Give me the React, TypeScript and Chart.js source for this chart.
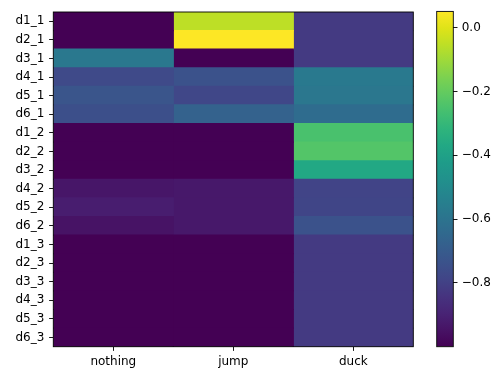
import { useEffect, useRef } from "react";
import { Chart, registerables } from "chart.js";

Chart.register(...registerables);

// Row and column categories of the heatmap
const rowLabels = [
  "d1_1", "d2_1", "d3_1", "d4_1", "d5_1", "d6_1",
  "d1_2", "d2_2", "d3_2", "d4_2", "d5_2", "d6_2",
  "d1_3", "d2_3", "d3_3", "d4_3", "d5_3", "d6_3",
];
const columnLabels = ["nothing", "jump", "duck"];

// Cell values, one array per column (top row first)
const nothingValues = [
  -1.0, -1.0, -0.58, -0.769, -0.727, -0.748,
  -1.0, -1.0, -1.0, -0.937, -0.916, -0.947,
  -1.0, -1.0, -1.0, -1.0, -1.0, -1.0,
];
const jumpValues = [
  -0.054, 0.051, -1.0, -0.737, -0.779, -0.674,
  -1.0, -1.0, -1.0, -0.932, -0.932, -0.932,
  -1.0, -1.0, -1.0, -1.0, -1.0, -1.0,
];
const duckValues = [
  -0.821, -0.821, -0.821, -0.574, -0.585, -0.632,
  -0.254, -0.233, -0.369, -0.79, -0.785, -0.737,
  -0.821, -0.821, -0.821, -0.821, -0.821, -0.821,
];

// Colorbar tick positions
const colorbarTicks = [-0.8, -0.6, -0.4, -0.2, 0.0];

// Viridis colormap sampled every 0.05
const VIRIDIS: number[][] = [
  [68, 1, 84], [71, 19, 101], [72, 36, 117], [70, 51, 127], [65, 68, 135],
  [59, 82, 139], [53, 95, 141], [47, 108, 142], [42, 120, 142], [37, 132, 142],
  [33, 145, 140], [30, 156, 137], [34, 168, 132], [47, 180, 124], [68, 191, 112],
  [94, 201, 98], [122, 209, 81], [155, 217, 60], [189, 223, 38], [223, 227, 24],
  [253, 231, 37],
];

function viridis(t: number): string {
  const c = Math.min(1, Math.max(0, t)) * (VIRIDIS.length - 1);
  const i = Math.min(VIRIDIS.length - 2, Math.floor(c));
  const f = c - i;
  const a = VIRIDIS[i];
  const b = VIRIDIS[i + 1];
  const mix = (k: number) => Math.round(a[k] + (b[k] - a[k]) * f);
  return `rgb(${mix(0)},${mix(1)},${mix(2)})`;
}

const FONT = { family: "'DejaVu Sans', sans-serif", size: 12 };
const TICK_LEN = 4.2;
const TICK_PAD = 4.2;

const framePlugin = {
  id: "frame",
  afterDraw(chart: any) {
    const { ctx, chartArea } = chart;
    const { left, top, right, bottom } = chartArea;
    ctx.save();
    ctx.strokeStyle = "#000";
    ctx.lineWidth = 0.9;
    ctx.strokeRect(left, top, right - left, bottom - top);
    ctx.restore();
  },
};

export default function App() {
  const mainRef = useRef<HTMLCanvasElement | null>(null);
  const barRef = useRef<HTMLCanvasElement | null>(null);

  useEffect(() => {
    const columnSeries = [nothingValues, jumpValues, duckValues];
    const all = columnSeries.flat();
    const vmin = Math.min(...all);
    const vmax = Math.max(...all);
    const colorFor = (v: number) => viridis((v - vmin) / (vmax - vmin));

    const main = new Chart(mainRef.current!, {
      type: "bar",
      data: {
        labels: rowLabels,
        datasets: columnSeries.map((vals, i) => ({
          label: columnLabels[i],
          data: vals.map(() => 1),
          backgroundColor: vals.map(colorFor),
          borderWidth: 0,
          barPercentage: 1,
          categoryPercentage: 1,
          // slight overlap so neighbouring cells leave no hairline seams
          inflateAmount: 0.6,
        })),
      },
      options: {
        indexAxis: "y",
        responsive: false,
        animation: false,
        devicePixelRatio: 1,
        layout: { padding: { left: 0, top: 11, right: 81.7, bottom: 0 } },
        plugins: { legend: { display: false }, tooltip: { enabled: false } },
        scales: {
          x: {
            type: "linear",
            stacked: true,
            min: 0,
            max: 3,
            afterBuildTicks: (s: any) => {
              s.ticks = columnLabels.map((_, i) => ({ value: i + 0.5 }));
            },
            afterFit: (s: any) => {
              s.height = 22.3;
            },
            ticks: {
              callback: (_v: any, i: number) => columnLabels[i],
              font: FONT,
              color: "#000",
              padding: TICK_PAD,
              autoSkip: false,
              maxRotation: 0,
            },
            grid: {
              drawOnChartArea: false,
              drawTicks: true,
              tickLength: TICK_LEN,
              color: "#000",
              lineWidth: 0.9,
            },
            border: { display: false },
          },
          y: {
            type: "category",
            stacked: true,
            afterFit: (s: any) => {
              s.width = 53.3;
            },
            ticks: {
              font: FONT,
              color: "#000",
              padding: TICK_PAD + 0.6,
              autoSkip: false,
            },
            grid: {
              offset: false,
              drawOnChartArea: false,
              drawTicks: true,
              tickLength: TICK_LEN,
              color: "#000",
              lineWidth: 0.9,
            },
            border: { display: false },
          },
        },
      } as any,
      plugins: [framePlugin],
    });

    const colorbar = new Chart(barRef.current!, {
      type: "bar",
      data: {
        labels: [""],
        datasets: [
          {
            data: [[vmin, vmax]] as any,
            borderWidth: 0,
            barPercentage: 1,
            categoryPercentage: 1,
            inflateAmount: 0,
            backgroundColor: (c: any) => {
              const chart = c.chart;
              const y = chart.scales.y;
              if (!chart.chartArea || !y) return "#000";
              const g = chart.ctx.createLinearGradient(
                0,
                y.getPixelForValue(vmin),
                0,
                y.getPixelForValue(vmax)
              );
              VIRIDIS.forEach((_, i) => {
                const t = i / (VIRIDIS.length - 1);
                g.addColorStop(t, viridis(t));
              });
              return g;
            },
          } as any,
        ],
      },
      options: {
        responsive: false,
        animation: false,
        devicePixelRatio: 1,
        layout: { padding: { left: 16.7, top: 11, right: 0, bottom: 22.3 } },
        plugins: { legend: { display: false }, tooltip: { enabled: false } },
        scales: {
          x: { display: false },
          y: {
            type: "linear",
            position: "right",
            min: vmin,
            max: vmax,
            afterBuildTicks: (s: any) => {
              s.ticks = colorbarTicks.map((v) => ({ value: v }));
            },
            afterFit: (s: any) => {
              s.width = 41.7;
            },
            ticks: {
              callback: (v: any) => {
                const n = Number(v);
                if (Math.abs(n) < 1e-9) return "0.0";
                return n.toFixed(1).replace("-", "\u2212");
              },
              font: FONT,
              color: "#000",
              padding: TICK_PAD,
            },
            grid: {
              drawOnChartArea: false,
              drawTicks: true,
              tickLength: TICK_LEN,
              color: "#000",
              lineWidth: 0.9,
            },
            border: { display: false },
          },
        },
      } as any,
      plugins: [framePlugin],
    });

    return () => {
      main.destroy();
      colorbar.destroy();
    };
  }, []);

  return (
    <div style={{ position: "fixed", left: 0, top: 0, width: 495, height: 369, background: "#fff" }}>
      <canvas
        ref={mainRef}
        width={495}
        height={369}
        style={{ position: "absolute", left: 0, top: 0 }}
      />
      <canvas
        ref={barRef}
        width={75}
        height={369}
        style={{ position: "absolute", left: 420, top: 0 }}
      />
    </div>
  );
}
